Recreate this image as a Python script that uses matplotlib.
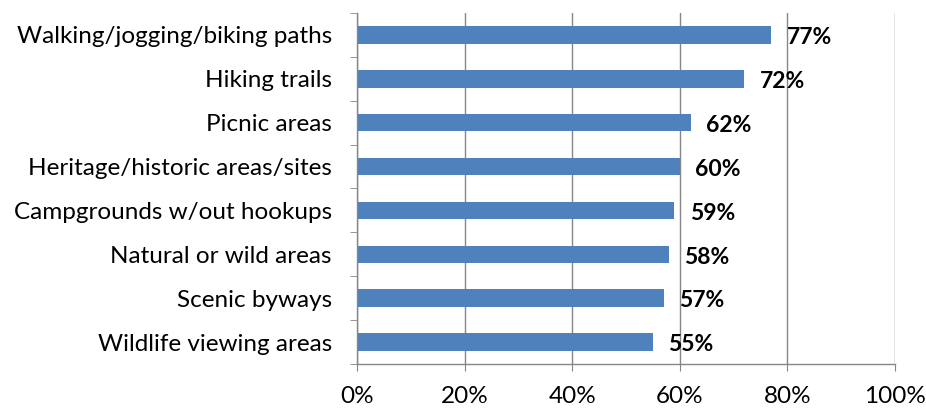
import matplotlib.pyplot as plt
import numpy as np
from matplotlib.ticker import FixedLocator, PercentFormatter

plt.rcParams['font.family'] = ['Lato', 'DejaVu Sans']

categories = ['Walking/jogging/biking paths', 'Hiking trails', 'Picnic areas',
              'Heritage/historic areas/sites', 'Campgrounds w/out hookups',
              'Natural or wild areas', 'Scenic byways', 'Wildlife viewing areas']
values = [77, 72, 62, 60, 59, 58, 57, 55]

bar_color = '#4F81BD'
axis_grey = '#868686'

fig = plt.figure(figsize=(9.26, 4.11), dpi=100)
ax = fig.add_axes([0.3855, 0.1144, 0.581, 0.854])

y = np.arange(len(categories))[::-1]
ax.barh(y, values, height=0.4, color=bar_color, zorder=2)

for yi, v in zip(y, values):
    ax.annotate(f'{v}%', xy=(v, yi), xytext=(11, -2), textcoords='offset points',
                ha='left', va='center', fontsize=16.5, fontweight='bold', color='black', zorder=3)

ax.set_xlim(0, 100)
ax.set_ylim(-0.5, len(categories) - 0.5)
ax.set_xticks(np.arange(0, 101, 20))
ax.xaxis.set_major_formatter(PercentFormatter(decimals=0))
ax.set_yticks(y)
ax.set_yticklabels(categories)
ax.yaxis.set_minor_locator(FixedLocator(np.arange(-0.5, len(categories), 1)))

ax.grid(axis='x', color=axis_grey, linewidth=1, zorder=1)
ax.set_axisbelow(True)
for side in ['top', 'right']:
    ax.spines[side].set_visible(False)
for side in ['left', 'bottom']:
    ax.spines[side].set_color(axis_grey)
    ax.spines[side].set_linewidth(1)

ax.tick_params(axis='y', which='major', length=0, pad=18, labelsize=17.5)
ax.tick_params(axis='y', which='minor', length=5, color=axis_grey, direction='out')
ax.tick_params(axis='x', which='major', length=5, color=axis_grey, pad=11, labelsize=17.5)

fig.savefig('out.png', dpi=100)
